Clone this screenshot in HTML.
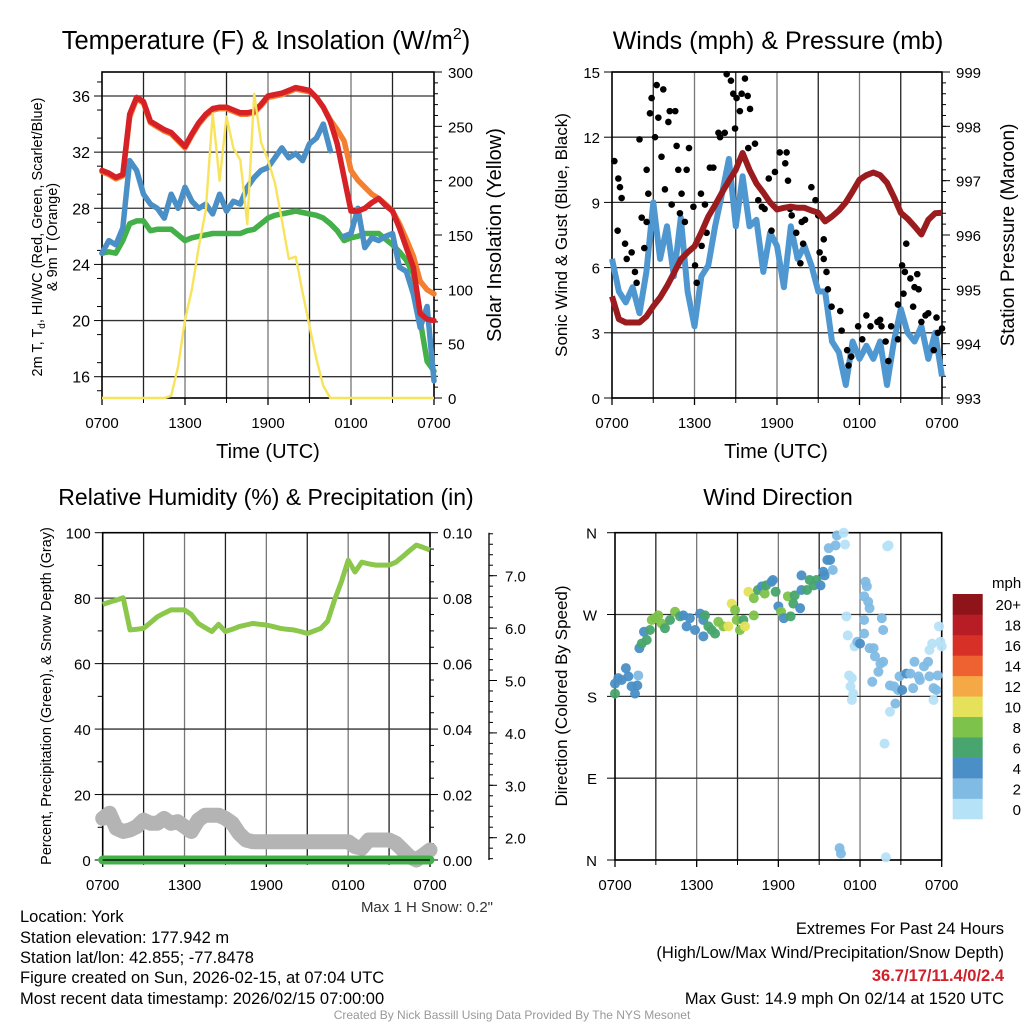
<!DOCTYPE html>
<html><head><meta charset="utf-8">
<style>
html,body{margin:0;padding:0;background:#fff;}
body{width:1024px;height:1024px;overflow:hidden;font-family:"Liberation Sans",Arial,sans-serif;}
svg text{font-family:"Liberation Sans",Arial,sans-serif;}
</style></head>
<body>
<svg id="chart" width="1024" height="1024" viewBox="0 0 1024 1024" xmlns="http://www.w3.org/2000/svg">
<g id="g1"></g>
<g id="g2"></g>
<g id="g3"></g>
<g id="g4"></g>
<g id="gt">
<text x="20" y="922" font-size="16.5">Location: York</text>
<text x="20" y="943" font-size="16.5">Station elevation: 177.942 m</text>
<text x="20" y="963" font-size="16.5">Station lat/lon: 42.855; -77.8478</text>
<text x="20" y="983" font-size="16.5">Figure created on Sun, 2026-02-15, at 07:04 UTC</text>
<text x="20" y="1004" font-size="16.5">Most recent data timestamp: 2026/02/15 07:00:00</text>
<text x="1004" y="934" font-size="16.5" text-anchor="end">Extremes For Past 24 Hours</text>
<text x="1004" y="958" font-size="16.5" text-anchor="end">(High/Low/Max Wind/Precipitation/Snow Depth)</text>
<text x="1004" y="981" font-size="16.5" font-weight="bold" fill="#d0202a" text-anchor="end">36.7/17/11.4/0/2.4</text>
<text x="1004" y="1004" font-size="16.5" text-anchor="end">Max Gust: 14.9 mph On 02/14 at 1520 UTC</text>
<text x="512" y="1019" font-size="12" fill="#999" text-anchor="middle">Created By Nick Bassill Using Data Provided By The NYS Mesonet</text>
<text x="493" y="912" font-size="15" fill="#333" text-anchor="end">Max 1 H Snow: 0.2"</text>
</g>
</svg>
<script>
// ---------- DATA ----------
const xTickLabels = ["0700","1300","1900","0100","0700"];
const hours = [0,0.5,1,1.5,2,2.5,3,3.5,4,4.5,5,5.5,6,6.5,7,7.5,8,8.5,9,9.5,10,10.5,11,11.5,12,12.5,13,13.5,14,14.5,15,15.5,16,16.5,17,17.5,18,18.5,19,19.5,20,20.5,21,21.5,22,22.5,23,23.5,24];
const tempRed = [30.7,30.5,30.2,30.4,34.7,35.9,35.6,34.2,33.9,33.6,33.4,32.9,32.4,33.3,34.1,34.7,35.1,35.2,35.2,35.0,34.8,34.8,34.9,35.4,36.0,36.1,36.2,36.4,36.6,36.5,36.4,35.9,35.2,34.2,32.6,30.2,27.8,27.8,28.0,28.4,28.7,28.2,27.8,26.6,25.2,23.8,20.5,20.1,20.0];
const temp9m = [30.6,30.4,30.1,30.3,34.5,35.8,35.5,34.1,33.8,33.5,33.3,32.8,32.3,33.2,34.0,34.6,35.0,35.1,35.1,34.9,34.7,34.7,34.8,35.3,35.9,36.0,36.1,36.3,36.5,36.4,36.3,35.9,35.2,34.3,33.6,32.8,30.7,30.0,29.5,29.0,28.7,28.3,27.8,26.9,25.8,24.6,22.8,22.2,21.9];
const tempBlue = [24.8,25.7,25.4,26.6,31.4,30.7,29.0,28.3,28.0,27.3,29.0,28.0,29.5,28.5,28.0,28.3,27.6,29.0,27.8,28.5,28.3,29.5,30.2,30.7,30.9,31.6,32.3,31.6,31.9,31.4,32.6,33.0,34.0,32.1,null,26.0,26.2,28.0,25.2,25.9,25.7,26.0,26.2,23.8,23.5,21.9,19.5,21.0,15.7];
const dewGreen = [24.8,24.9,24.8,25.7,26.9,27.1,27.1,26.4,26.5,26.5,26.5,26.1,25.7,25.9,26.0,26.1,26.2,26.2,26.2,26.2,26.2,26.4,26.5,26.9,27.3,27.5,27.6,27.7,27.8,27.7,27.6,27.5,27.3,26.9,26.4,25.7,25.9,26.0,26.2,26.2,26.2,25.8,25.4,24.9,24.3,23.3,20.0,17.1,16.4];
const solar = [0,0,0,0,0,0,0,0,0,0,2,29,72,100,139,173,262,200,259,230,219,160,280,235,219,198,164,128,130,97,66,36,11,0,0,0,0,0,0,0,0,0,0,0,0,0,0,0,0];
const tempTicks = [16,20,24,28,32,36];
const solarTicks = [0,50,100,150,200,250,300];

const windBlue = [6.4,4.9,4.4,5.1,3.9,5.8,9.0,6.4,7.9,5.6,8.3,4.9,3.3,5.6,6.1,7.9,9.4,11.0,7.9,10.2,7.9,8.2,5.8,7.6,7.0,5.1,7.9,6.4,7.0,6.1,4.9,4.9,2.6,2.1,0.6,2.6,1.8,2.4,1.8,2.6,0.6,2.6,4.1,3.0,2.6,3.3,1.8,3.0,1.0];
const pressure = [994.87,994.45,994.39,994.39,994.39,994.5,994.69,994.85,995.06,995.3,995.55,995.68,995.79,996.05,996.34,996.55,996.78,997.0,997.20,997.51,997.20,996.95,996.78,996.6,996.47,996.5,996.52,996.5,996.50,996.45,996.41,996.25,996.34,996.45,996.60,996.8,997.02,997.1,997.15,997.1,996.96,996.7,996.41,996.3,996.16,996.01,996.28,996.4,996.41];
const gustHours = [0.17,0.46,0.58,0.7,0.41,0.95,1.07,1.43,1.67,1.79,2.0,2.16,2.35,2.52,2.52,2.64,2.88,2.76,3.13,3.25,3.37,3.73,3.6,4.1,4.2,4.6,3.85,4.34,4.7,4.82,5.06,4.94,5.3,5.6,5.43,5.92,6.04,6.16,6.52,6.47,6.76,6.88,7.12,7.37,7.74,7.86,8.2,8.34,8.65,8.82,9.06,9.3,9.43,9.67,9.87,10.04,8.95,9.91,10.4,10.64,10.9,11.1,11.4,11.6,11.85,12.2,12.7,12.6,12.8,12.95,13.07,13.4,13.8,13.9,13.7,14.04,14.5,14.8,15.0,15.4,15.1,15.4,15.6,15.7,15.97,16.6,16.7,17.1,17.4,17.2,17.9,18.2,18.5,18.8,19.3,19.6,19.5,19.9,20.1,20.3,20.8,20.8,21.2,21.1,21.3,21.4,21.7,22.0,22.2,22.3,21.9,22.5,22.8,23.0,23.6,24.0,23.4,23.7];
const gustValues = [10.9,10.1,9.7,9.2,7.7,7.1,6.4,6.7,5.8,5.3,11.9,8.3,6.9,8.1,10.5,9.4,13.8,13.1,12.0,14.4,12.9,14.2,11.1,12.7,13.2,13.2,9.6,8.9,11.6,10.5,9.4,8.5,8.1,11.5,10.5,8.8,6.1,5.3,7.0,9.4,8.9,7.6,10.6,10.6,12.2,12.0,12.2,14.9,14.6,14.0,13.8,13.2,14.0,14.7,13.9,13.3,12.4,11.5,11.7,9.1,8.8,8.7,10.1,7.7,10.4,11.3,11.3,10.8,10.0,8.7,8.4,7.6,8.1,7.1,6.2,8.2,9.7,9.1,8.4,7.3,6.7,6.4,5.8,5.0,4.2,4.0,3.1,2.2,1.9,1.5,3.3,2.7,3.8,3.3,3.5,3.3,3.6,2.6,1.7,3.3,2.7,4.3,4.8,6.1,5.8,7.1,5.5,5.1,5.7,5.0,4.2,3.5,3.8,3.9,3.7,3.2,2.2,3.0];
const windTicks = [0,3,6,9,12,15];
const pressTicks = [993,994,995,996,997,998,999];

const rh = [78.1,78.8,79.4,80.1,70.3,70.5,70.8,72.5,74.3,75.4,76.4,76.4,76.4,75,72.3,71,69.8,72,69.8,70.5,71.3,71.8,72.3,72,71.8,71.3,70.8,70.5,70.3,69.8,69.2,70,70.8,73,79.4,85,91.6,88,91,90.5,90.1,90.1,90.1,91,92.7,94.5,96.2,95.5,94.7];
const snowDepthPct = [12.7,14.3,9.7,8.7,9.2,10.2,12.2,11.2,11.2,12.7,11.2,11.7,10.2,8.7,12.2,13.7,13.7,13.7,12.7,11.2,8.1,6.1,5.6,5.6,5.6,5.6,5.6,5.6,5.6,5.6,5.6,5.6,5.6,5.6,5.6,5.6,5.6,4.1,3.6,6.1,6.1,6.1,6.1,5.1,3.1,1.0,0.0,1.5,3.1];
const precip = [0,0,0,0,0,0,0,0,0,0,0,0,0,0,0,0,0,0,0,0,0,0,0,0,0,0,0,0,0,0,0,0,0,0,0,0,0,0,0,0,0,0,0,0,0,0,0,0,0];
const rhTicks = [0,20,40,60,80,100];
const precipTicks = ["0.00","0.02","0.04","0.06","0.08","0.10"];
const snowTicks = ["2.0","3.0","4.0","5.0","6.0","7.0"];

const dirHours = [0,0,0.24,0.49,0.8,0.98,1.22,1.47,1.64,1.71,1.79,1.96,2.13,2.33,2.57,2.7,2.94,3.18,3.43,3.67,4.04,4.41,4.78,5.02,5.26,5.5,5.88,6.25,6.49,6.61,6.49,6.86,7.1,7.35,7.59,7.96,8.33,8.57,8.82,8.94,9.18,9.43,9.55,9.8,10.2,10.2,10.5,10.8,11.0,11.1,11.5,11.6,11.8,12.0,12.2,12.4,12.7,12.9,13.1,13.2,13.6,13.7,13.7,14.1,14.3,14.6,14.8,15.1,15.3,15.4,15.6,15.7,15.8,16.0,16.2,16.3,16.8,16.9,16.5,16.6,17.0,17.1,17.2,17.4,17.3,17.5,17.4,17.6,17.8,18.0,18.3,18.3,18.4,18.5,18.6,18.7,18.3,18.7,19.1,19.0,19.35,19.5,19.7,18.9,19.6,19.7,20.0,20.1,19.8,19.9,20.2,20.6,20.2,20.5,20.8,20.9,21.1,21.4,21.7,21.9,22.0,22.3,22.4,22.7,23.0,23.1,23.4,23.4,23.6,23.7,23.3,23.8,23.9,24,23.1];
const dirDegrees = [194,183,200,198,211,202,191,183,192,203,233,238,251,242,253,264,266,269,260,255,264,273,268,269,257,266,253,271,264,269,246,257,253,249,262,257,257,282,275,264,253,264,257,295,288,269,297,301,293,302,306,308,295,279,273,266,290,268,282,291,277,297,313,297,308,302,308,302,317,313,330,343,330,319,346,357,360,347,13,7,268,247,203,200,191,183,176,235,240,238,249,290,306,301,284,277,264,233,224,233,207,216,218,196,266,253,345,346,128,3,163,172,192,191,187,202,187,205,205,189,218,202,198,213,218,202,189,176,187,203,238,257,240,235,231];
const dirSpeeds = [5,6,4,4,4,4,4,4,4,2,4,6,4,6,6,8,8,8,8,6,6,8,6,4,4,4,4,4,4,6,4,6,6,6,8,8,10,10,8,8,8,6,10,10,8,8,6,4,8,6,4,4,6,4,8,4,8,6,6,6,4,4,4,6,6,6,6,4,4,4,4,2,4,2,2,2,1,1,2,2,1,1,1,1,1,1,1,1,3,4,2,2,2,2,2,2,2,2,2,2,2,2,2,2,2,2,1,1,1,1,1,2,2,2,2,3,4,4,3,2,2,2,2,2,2,2,2,1,2,2,1,1,1,1,1];
const dirTicks = ["N","E","S","W","N"];
const speedBinLabels = ["0","2","4","6","8","10","12","14","16","18","20+"];
const speedBinColors = ["#b6e2f7","#80bbe4","#4a8fc6","#48a56d","#7dc24a","#e6e15a","#f5a846","#ee6130","#d73027","#b81c24","#8f1419"];

// ---------- HELPERS ----------
const NS="http://www.w3.org/2000/svg";
function mk(parent,tag,attrs,txt){const e=document.createElementNS(NS,tag);for(const k in attrs)e.setAttribute(k,attrs[k]);if(txt!==undefined)e.textContent=txt;parent.appendChild(e);return e;}
function lin(d0,d1,r0,r1){return v=>r0+(v-d0)*(r1-r0)/(d1-d0);}
function pathFrom(xs,ys,fx,fy){let d="",pen=false;for(let i=0;i<xs.length;i++){if(ys[i]===null||ys[i]===undefined){pen=false;continue;}d+=(pen?"L":"M")+fx(xs[i]).toFixed(1)+","+fy(ys[i]).toFixed(1);pen=true;}return d;}

function frame(g,L,T,R,B,name,vTicks,hTicksY){
  const grid=mk(g,"g",{});
  
  
  for(let i=1;i<8;i++){const x=L+(R-L)*i/8;mk(grid,"line",{x1:x,x2:x,y1:T,y2:B,stroke:i%2?"#222":"#777","stroke-width":1.3});}
  hTicksY.forEach(y=>{mk(grid,"line",{x1:L,x2:R,y1:y,y2:y,stroke:"#333","stroke-width":1.3});});
  const fr=mk(g,"rect",{x:L,y:T,width:R-L,height:B-T,fill:"none",stroke:"#000","stroke-width":1.6});
  
  
  xTickLabels.forEach((lab,i)=>{const x=L+(R-L)*i/4;
    mk(g,"line",{x1:x,x2:x,y1:B,y2:B+7,stroke:"#000","stroke-width":1.3});
    const t=mk(g,"text",{x:x,y:B+30,"font-size":15,"text-anchor":"middle"},lab);
    
    
  });
  for(let i=1;i<8;i+=2){const x=L+(R-L)*i/8;mk(g,"line",{x1:x,x2:x,y1:B,y2:B+5,stroke:"#000","stroke-width":1});}
}

// ---------- PANEL 1 ----------
(function(){
  const g=document.getElementById("g1");const L=102,R=434,T=72,B=398;
  const fx=lin(0,24,L,R), fy=lin(16,36,376.7,96), fs=lin(0,300,B,T);
  frame(g,L,T,R,B,"temp",null,tempTicks.map(fy));
  tempTicks.forEach(v=>{mk(g,"line",{x1:L-8,x2:L,y1:fy(v),y2:fy(v),stroke:"#000"});
    const t=mk(g,"text",{x:L-12,y:fy(v)+6,"font-size":16,"text-anchor":"end"},String(v));
    
    });
  for(let v=15;v<38;v+=2){mk(g,"line",{x1:L-5,x2:L,y1:fy(v),y2:fy(v),stroke:"#000"});}
  solarTicks.forEach(v=>{mk(g,"line",{x1:R,x2:R+8,y1:fs(v),y2:fs(v),stroke:"#000"});
    const t=mk(g,"text",{x:R+14,y:fs(v)+6,"font-size":15},String(v));
    
    });
  for(let v=10;v<300;v+=10){if(v%50)mk(g,"line",{x1:R,x2:R+4,y1:fs(v),y2:fs(v),stroke:"#000"});}
  const series=[[temp9m,"#f47f30","nine-meter-temp-line"],[dewGreen,"#43b049","dewpoint-line"],[tempBlue,"#4a8fc6","wind-chill-line"],[tempRed,"#d62227","temperature-line"]];
  series.forEach(s=>{const p=mk(g,"path",{d:pathFrom(hours,s[0],fx,fy),fill:"none",stroke:s[1],"stroke-width":5.5,"stroke-linejoin":"round","stroke-linecap":"round"});
    
    });
  const sp=mk(g,"path",{d:pathFrom(hours,solar,fx,fs),fill:"none",stroke:"#f8e45c","stroke-width":2.4,"stroke-linejoin":"round"});
  
  
  const tt=mk(g,"text",{x:266,y:49,"font-size":25.5,"text-anchor":"middle"});
  
  
  tt.innerHTML='Temperature (F) &amp; Insolation (W/m<tspan dy="-10" font-size="16">2</tspan><tspan dy="10">)</tspan>';
  const xt=mk(g,"text",{x:268,y:458,"font-size":20,"text-anchor":"middle"},"Time (UTC)");
  
  
  const yl=mk(g,"text",{transform:"translate(42,237) rotate(-90)","font-size":14.5,"text-anchor":"middle"});
  
  
  yl.innerHTML='2m T, T<tspan dy="3" font-size="10">d</tspan><tspan dy="-3">, HI/WC (Red, Green, Scarlet/Blue)</tspan>';
  const yl2=mk(g,"text",{transform:"translate(57,237) rotate(-90)","font-size":14.5,"text-anchor":"middle"},"& 9m T (Orange)");
  
  
  const yr=mk(g,"text",{transform:"translate(501,235) rotate(-90)","font-size":20,"text-anchor":"middle"},"Solar Insolation (Yellow)");
  
  
})();

// ---------- PANEL 2 ----------
(function(){
  const g=document.getElementById("g2");const L=612,R=942,T=72,B=398;
  const fx=lin(0,24,L,R), fy=lin(0,15,B,T), fp=lin(993,999,B,T);
  frame(g,L,T,R,B,"wind",null,windTicks.map(fy));
  windTicks.forEach(v=>{mk(g,"line",{x1:L-8,x2:L,y1:fy(v),y2:fy(v),stroke:"#000"});
    const t=mk(g,"text",{x:L-12,y:fy(v)+6,"font-size":15,"text-anchor":"end"},String(v));
    
    });
  pressTicks.forEach(v=>{mk(g,"line",{x1:R,x2:R+8,y1:fp(v),y2:fp(v),stroke:"#000"});
    const t=mk(g,"text",{x:R+14,y:fp(v)+6,"font-size":15},String(v));
    
    });
  for(let v=993.2;v<999;v+=0.2){mk(g,"line",{x1:R,x2:R+4,y1:fp(v),y2:fp(v),stroke:"#000"});}
  const wp=mk(g,"path",{d:pathFrom(hours,windBlue,fx,fy),fill:"none",stroke:"#4f97d1","stroke-width":6,"stroke-linejoin":"round"});
  
  
  gustHours.forEach((h,i)=>{const c=mk(g,"circle",{cx:fx(h),cy:fy(gustValues[i]),r:3.3,fill:"#000"});
    
    });
  const pp=mk(g,"path",{d:pathFrom(hours,pressure,fx,fp),fill:"none",stroke:"#9b1c1f","stroke-width":6,"stroke-linejoin":"round"});
  
  
  const tt=mk(g,"text",{x:778,y:49,"font-size":25,"text-anchor":"middle"},"Winds (mph) & Pressure (mb)");
  
  
  const xt=mk(g,"text",{x:776,y:458,"font-size":20,"text-anchor":"middle"},"Time (UTC)");
  
  
  const yl=mk(g,"text",{transform:"translate(567,235) rotate(-90)","font-size":17,"text-anchor":"middle"},"Sonic Wind & Gust (Blue, Black)");
  
  
  const yr=mk(g,"text",{transform:"translate(1014,235) rotate(-90)","font-size":19,"text-anchor":"middle"},"Station Pressure (Maroon)");
  
  
})();

// ---------- PANEL 3 ----------
(function(){
  const g=document.getElementById("g3");const L=102.7,R=430,T=532.7,B=860;
  const fx=lin(0,24,L,R), fy=lin(0,100,B,T), fsn=lin(2,7,837.7,575.7);
  frame(g,L,T,R,B,"humidity",null,rhTicks.map(fy));
  rhTicks.forEach(v=>{mk(g,"line",{x1:L-8,x2:L,y1:fy(v),y2:fy(v),stroke:"#000"});
    const t=mk(g,"text",{x:L-12,y:fy(v)+6,"font-size":15,"text-anchor":"end"},String(v));
    
    });
  for(let v=10;v<100;v+=20)mk(g,"line",{x1:L-5,x2:L,y1:fy(v),y2:fy(v),stroke:"#000"});
  precipTicks.forEach((lab,i)=>{const y=fy(i*20);mk(g,"line",{x1:R,x2:R+8,y1:y,y2:y,stroke:"#000"});
    const t=mk(g,"text",{x:R+13,y:y+6,"font-size":15},lab);
    
    });
  for(let v=5;v<100;v+=5){if(v%20)mk(g,"line",{x1:R,x2:R+4,y1:fy(v),y2:fy(v),stroke:"#000"});}
  const ax=mk(g,"line",{x1:489,x2:489,y1:T,y2:B,stroke:"#000","stroke-width":1.3});
  
  
  snowTicks.forEach(lab=>{const y=fsn(parseFloat(lab));mk(g,"line",{x1:489,x2:497,y1:y,y2:y,stroke:"#000"});
    const t=mk(g,"text",{x:505,y:y+6,"font-size":15},lab);
    
    });
  for(let v=1.6;v<7.9;v+=0.2){mk(g,"line",{x1:489,x2:493,y1:fsn(v),y2:fsn(v),stroke:"#000"});}
  const sp=mk(g,"path",{d:pathFrom(hours,snowDepthPct,fx,fy),fill:"none",stroke:"#b4b4b4","stroke-width":15,"stroke-linejoin":"round","stroke-linecap":"round"});
  
  
  const pp=mk(g,"path",{d:pathFrom(hours,precip,fx,fy),fill:"none",stroke:"#43b049","stroke-width":9,"stroke-linecap":"round"});
  
  
  mk(g,"line",{x1:L,x2:R,y1:B,y2:B,stroke:"#000","stroke-width":1.3});
  const rp=mk(g,"path",{d:pathFrom(hours,rh,fx,fy),fill:"none",stroke:"#8ac74a","stroke-width":5,"stroke-linejoin":"round"});
  
  
  const tt=mk(g,"text",{x:266,y:505,"font-size":23,"text-anchor":"middle"},"Relative Humidity (%) & Precipitation (in)");
  
  
  const yl=mk(g,"text",{transform:"translate(51,696) rotate(-90)","font-size":14.5,"text-anchor":"middle"},"Percent, Precipitation (Green), & Snow Depth (Gray)");
  
  
})();

// ---------- PANEL 4 ----------
(function(){
  const g=document.getElementById("g4");const L=615,R=941.7,T=532.7,B=860;
  const fx=lin(0,24,L,R), fy=lin(0,360,B,T);
  frame(g,L,T,R,B,"direction",null,[0,90,180,270,360].map(fy));
  dirTicks.forEach((lab,i)=>{const y=fy(i*90);mk(g,"line",{x1:L-8,x2:L,y1:y,y2:y,stroke:"#000"});
    const t=mk(g,"text",{x:L-18,y:y+6,"font-size":15,"text-anchor":"end"},lab);
    
    });
  dirHours.forEach((h,i)=>{const bin=Math.min(10,Math.floor(dirSpeeds[i]/2));
    const c=mk(g,"circle",{cx:fx(h),cy:fy(dirDegrees[i]),r:5,fill:speedBinColors[bin],"fill-opacity":0.95});
    
    });
  const cb=mk(g,"g",{});
  
  
  const h=(819-594)/11;
  speedBinLabels.forEach((lab,i)=>{const y=819-(i+1)*h;
    const r=mk(cb,"rect",{x:952.7,y:y,width:30,height:h+0.3,fill:speedBinColors[i]});
    
    
    const t=mk(cb,"text",{x:1021,y:y+h/2+6,"font-size":15,"text-anchor":"end"},lab);
    
    });
  const mt=mk(cb,"text",{x:992,y:588,"font-size":15},"mph");
  
  
  const tt=mk(g,"text",{x:778,y:505,"font-size":23,"text-anchor":"middle"},"Wind Direction");
  
  
  const yl=mk(g,"text",{transform:"translate(567,696) rotate(-90)","font-size":17,"text-anchor":"middle"},"Direction (Colored By Speed)");
  
  
})();
</script>
</body></html>
